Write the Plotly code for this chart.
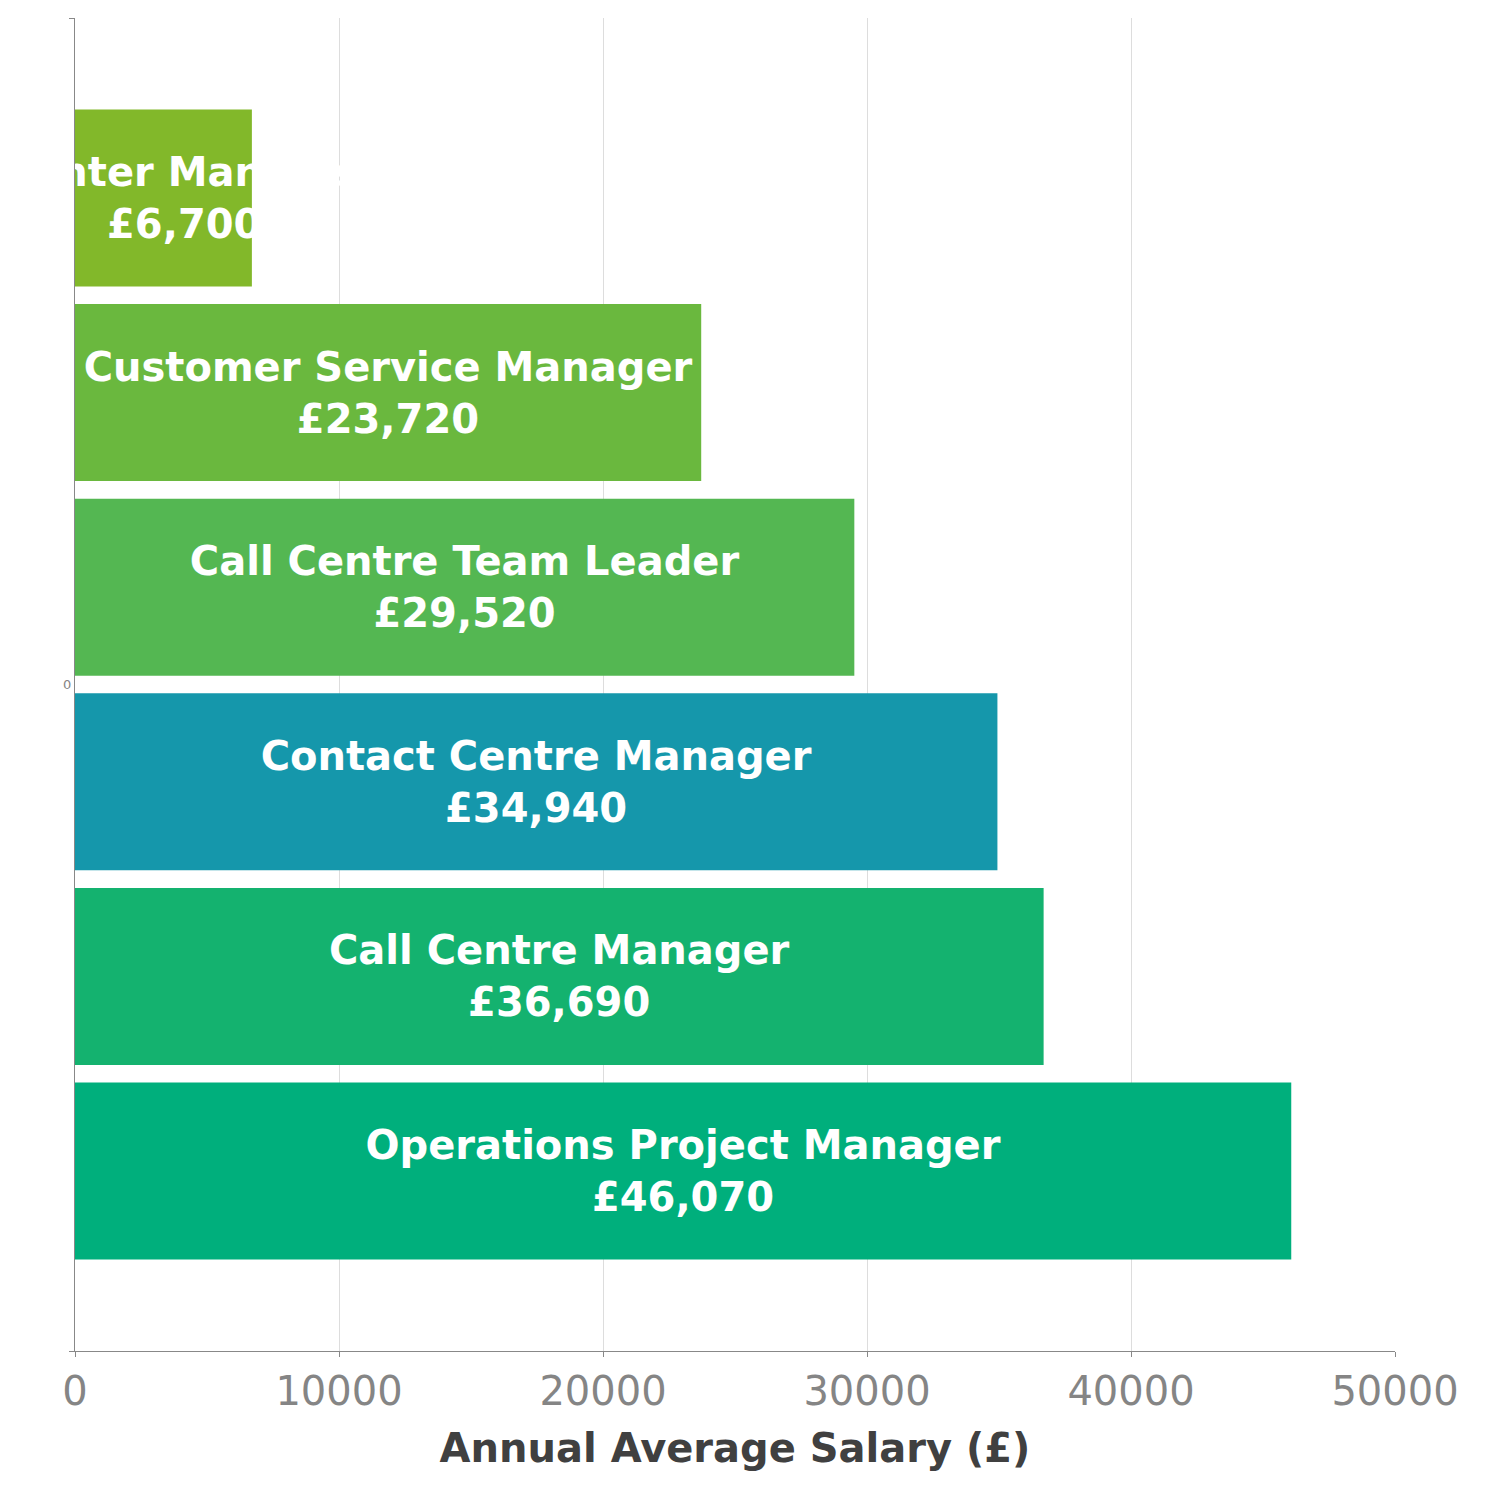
# Annual average salary by call centre role - horizontal grouped bars

import plotly.graph_objs as go


roles = ["Operations Project Manager", "Call Centre Manager", "Contact Centre Manager",
         "Call Centre Team Leader", "Customer Service Manager", "Center Manager"]
salaries = [46070, 36690, 34940, 29520, 23720, 6700]
colors = ["#00AF7C", "#14B26F", "#1597AB", "#54B752", "#6AB83E", "#82B82A"]
category = ["0"]

# the short bar's label sits a little right of the bar centre in the original
label_pad = {"Center Manager": "&nbsp;" * 3}

fig = go.Figure()

for role, salary, color in zip(roles, salaries, colors):
    pad = label_pad.get(role, "")
    fig.add_trace(go.Bar(
        orientation = "h",
        x = [salary],
        y = category,
        name = role,
        marker = dict(color = color, line = dict(width = 0)),
        text = [pad + role + "<br>" + pad + "£" + f"{salary:,}"],
        textposition = "inside",
        insidetextanchor = "middle",
        constraintext = "none",
        textangle = 0,
        textfont = dict(family = "DejaVu Sans", size = 40, color = "white", weight = "bold"),
        showlegend = False
    ))

fig.update_layout(
    width = 1500,
    height = 1500,
    margin = dict(l = 67, r = 113, t = 10, b = 157),
    plot_bgcolor = "white",
    paper_bgcolor = "white",
    barmode = "group",
    bargap = 0.124,
    bargroupgap = 0.09,
    font = dict(family = "DejaVu Sans"),
    xaxis = dict(
        range = [0, 50000],
        tickvals = [0, 10000, 20000, 30000, 40000, 50000],
        tickformat = "d",
        showgrid = True,
        gridcolor = "#dddddd",
        zeroline = False,
        showline = True,
        linecolor = "#888888",
        ticks = "outside",
        ticklen = 5,
        tickcolor = "#888888",
        tickfont = dict(size = 40, color = "#858585"),
        title = dict(text = "Annual Average Salary (£)",
                     font = dict(size = 40, color = "#404040", weight = "bold"),
                     standoff = 20)
    ),
    yaxis = dict(
        type = "category",
        showgrid = False,
        showline = True,
        linecolor = "#888888",
        ticks = "outside",
        tickson = "boundaries",
        ticklen = 5,
        tickcolor = "#888888",
        tickfont = dict(size = 13, color = "#858585"),
        layer = "below traces"
    )
)

fig.write_html("out.html")
